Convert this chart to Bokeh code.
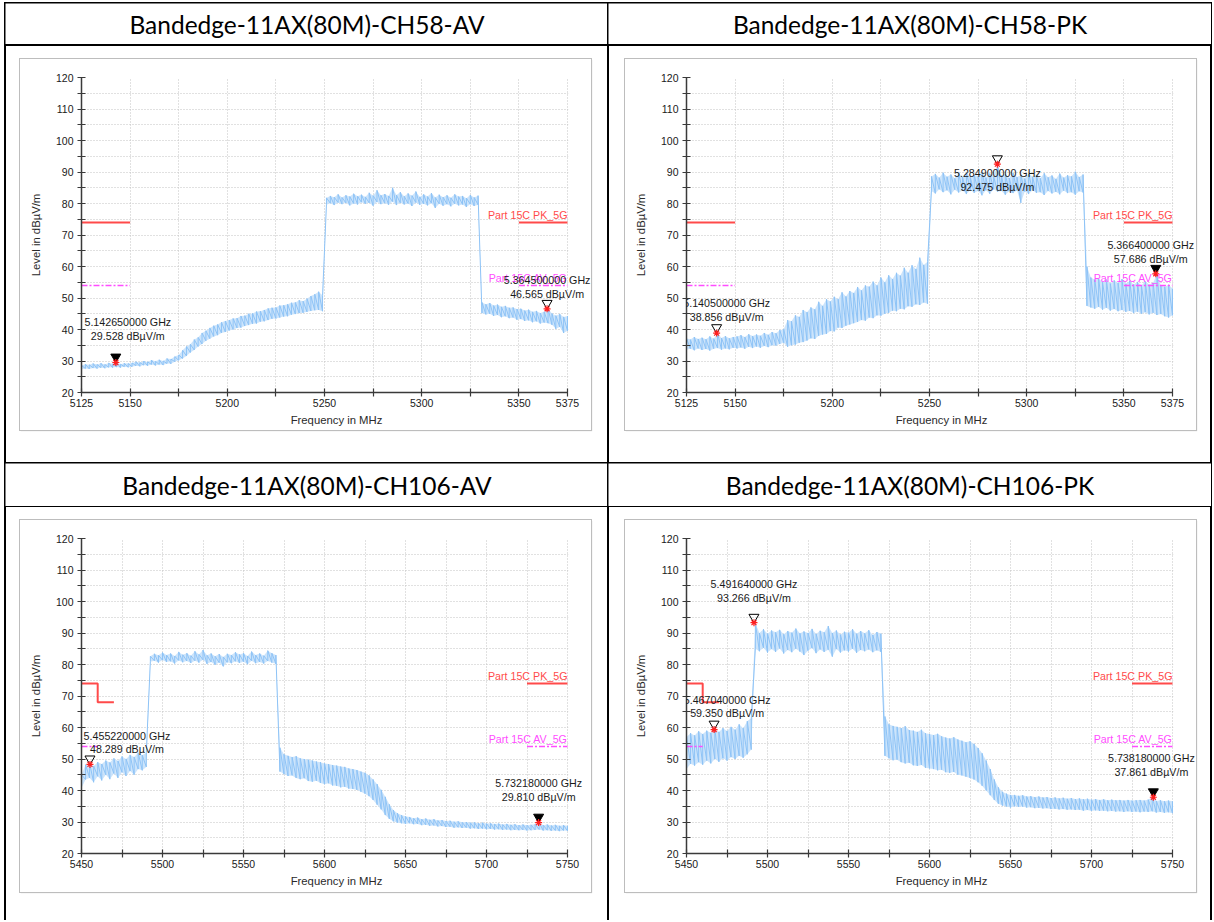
from bokeh.plotting import figure
from bokeh.layouts import column, row
from bokeh.models import Spacer, FixedTicker, Range1d, Label, BoxAnnotation
from bokeh.embed import file_html
from bokeh.resources import INLINE
from bokeh.core.properties import value

# ---------------------------------------------------------------- data
TITLES = ["Bandedge-11AX(80M)-CH58-AV", "Bandedge-11AX(80M)-CH58-PK",
          "Bandedge-11AX(80M)-CH106-AV", "Bandedge-11AX(80M)-CH106-PK"]

CH58_RANGE = (5125, 5375)
CH58_STEP = 2.0          # MHz per trace bin
CH106_RANGE = (5450, 5750)
CH106_STEP = 2.5
Y_RANGE = (20, 120)

CH58_X_MAJOR = [5125, 5150, 5200, 5250, 5300, 5350, 5375]
CH58_X_MINOR = [5175, 5225, 5275, 5325]
CH106_X_MAJOR = [5450, 5500, 5550, 5600, 5650, 5700, 5750]
CH106_X_MINOR = [5475, 5525, 5575, 5625, 5675, 5725]
Y_MAJOR = [20, 30, 40, 50, 60, 70, 80, 90, 100, 110, 120]
Y_MINOR = [25, 35, 45, 55, 65, 75, 85, 95, 105, 115]

# trace: per-bin max / min level (dBuV/m)
CH58_AV_HIGH = [
    28.6, 29.0, 28.8, 29.2, 28.9, 29.3, 28.9, 29.4, 29.1, 29.6, 29.0, 29.3, 29.2,
    29.4, 29.8, 29.5, 30.0, 29.7, 30.3, 29.9, 30.4, 30.0, 30.8, 30.6, 31.4, 31.9,
    33.4, 34.6, 35.3, 36.8, 37.5, 38.9, 39.6, 40.5, 41.2, 41.6,
    42.3, 42.7, 43.0, 43.5, 43.6, 44.3, 44.4, 45.0, 45.1, 45.7,
    45.8, 46.2, 46.7, 46.9, 47.0, 47.6, 47.7, 48.0, 48.5, 48.6,
    49.3, 49.0, 49.8, 50.6, 51.2, 52.0, 50.8,
    81.8, 82.4, 82.0, 82.9, 81.9, 82.6, 82.2, 83.1, 82.3, 82.8,
    82.1, 83.4, 82.5, 84.2, 82.6, 83.0, 82.4, 85.0, 82.7, 83.6,
    82.3, 83.2, 82.5, 83.8, 82.1, 82.9, 82.2, 83.3, 81.9, 82.8,
    82.0, 82.6, 81.8, 82.9, 82.2, 82.4, 81.7, 82.7, 81.9, 82.5,
    48.6, 48.0, 48.4, 47.6, 47.9, 47.2, 47.5, 46.9, 47.0, 46.5,
    46.6, 46.0, 46.3, 45.6, 45.9, 45.2, 45.6, 46.6, 45.1, 44.4, 44.9, 44.0, 44.3,
]
CH58_AV_LOW = [
    27.4, 27.6, 27.5, 27.8, 27.6, 27.9, 27.7, 28.0, 27.9, 28.1, 27.9, 28.2, 28.0,
    28.2, 28.5, 28.3, 28.7, 28.5, 28.9, 28.6, 28.9, 28.7, 29.2, 29.1, 29.8, 30.2,
    30.8, 31.6, 32.7, 33.5, 34.6, 35.4, 36.4, 37.1, 37.8, 38.2,
    38.9, 39.2, 39.7, 40.0, 40.5, 40.6, 41.1, 41.4, 41.8, 41.9,
    42.5, 42.6, 43.0, 43.4, 43.5, 43.8, 44.1, 44.2, 44.7, 44.9,
    45.2, 45.3, 45.6, 45.9, 46.1, 46.2, 45.8,
    79.6, 80.1, 79.5, 80.3, 79.8, 80.2, 79.4, 80.0, 79.7, 80.4,
    79.9, 80.2, 79.3, 80.5, 79.8, 80.1, 79.6, 80.6, 79.5, 80.2,
    79.7, 80.0, 79.2, 80.3, 79.6, 79.9, 79.4, 80.1, 78.6, 79.9,
    79.3, 79.8, 79.1, 79.9, 79.4, 79.7, 78.9, 79.8, 79.2, 79.6,
    45.2, 44.8, 45.0, 44.3, 44.6, 43.9, 44.2, 43.6, 43.8, 43.1,
    43.3, 42.7, 42.9, 42.3, 42.6, 41.9, 42.2, 42.0, 41.5, 40.2, 40.8, 38.9, 39.6,
]

CH58_PK_HIGH = [
    37.2, 36.8, 37.6, 37.0, 37.4, 36.9, 37.8, 37.1, 38.8, 37.3, 37.9, 37.2, 37.6,
    37.8, 38.2, 37.6, 38.5, 37.9, 38.4, 38.0, 38.9, 38.3, 39.2, 38.8, 39.8, 40.1,
    43.0, 42.6, 44.5, 44.0, 46.2, 45.5, 47.0, 46.4, 48.8, 47.5,
    49.6, 48.9, 50.4, 49.6, 51.8, 50.5, 52.2, 51.6, 53.5, 52.4,
    54.0, 53.6, 55.2, 54.0, 56.5, 55.0, 57.2, 56.0, 58.0, 57.1,
    59.6, 58.0, 60.4, 59.2, 62.8, 60.5, 61.5,
    88.6, 89.4, 88.2, 89.8, 88.5, 89.2, 88.0, 89.6, 88.4, 89.9,
    88.3, 89.1, 88.7, 90.0, 88.2, 89.5, 88.6, 92.4, 88.9, 89.3,
    88.1, 89.7, 88.4, 89.0, 87.9, 89.4, 88.5, 89.1, 88.0, 89.6,
    88.3, 88.9, 87.8, 89.5, 88.2, 89.0, 88.6, 90.1, 88.4, 89.2,
    60.0, 56.5, 55.8, 56.2, 55.0, 55.9, 54.6, 55.6, 54.8, 56.0,
    54.5, 55.4, 54.3, 55.1, 54.0, 55.3, 54.2, 54.8, 57.6, 54.0, 53.6, 54.2, 53.0,
]
CH58_PK_LOW = [
    33.6, 33.9, 33.4, 34.0, 33.5, 33.8, 33.3, 33.9, 34.1, 33.6, 34.0, 33.7, 34.2,
    34.0, 34.3, 33.9, 34.5, 34.1, 34.6, 34.2, 34.8, 34.4, 35.0, 34.9, 35.4, 35.8,
    34.5, 35.0, 35.2, 35.8, 36.0, 36.5, 37.2, 37.0, 38.0, 38.4,
    38.6, 39.5, 39.4, 40.6, 40.5, 41.2, 41.6, 42.0, 42.4, 43.0,
    42.8, 43.8, 43.6, 44.5, 44.4, 45.0, 45.3, 46.0, 45.8, 46.6,
    46.4, 47.4, 47.2, 48.0, 47.8, 48.6, 48.2,
    84.0, 83.2, 84.5, 83.6, 84.2, 82.9, 84.4, 83.5, 84.1, 83.0,
    84.3, 83.4, 84.0, 82.6, 84.2, 83.1, 84.5, 83.7, 84.0, 82.8,
    83.9, 83.3, 84.1, 80.2, 83.8, 83.0, 84.2, 83.4, 83.6, 82.7,
    84.0, 83.2, 83.7, 82.9, 84.1, 83.3, 83.6, 82.8, 83.9, 83.5,
    47.5, 47.0, 46.6, 47.2, 46.3, 46.9, 46.0, 46.5, 45.8, 46.2,
    45.6, 45.9, 45.2, 45.7, 45.0, 45.5, 44.8, 45.3, 44.6, 44.9, 44.2, 43.8, 44.5,
]

CH106_AV_HIGH = [
    45.0, 48.2, 48.6, 47.8, 49.0, 48.4, 49.5, 48.9, 50.2, 49.4, 50.8, 50.0, 51.3, 50.6, 52.0, 51.2,
    52.0,
    82.6, 83.4, 82.9, 83.8, 83.0, 83.5, 82.7, 84.0, 83.1, 83.6,
    82.8, 84.2, 83.2, 84.6, 82.9, 83.5, 82.6, 83.3, 82.4, 83.4,
    83.0, 83.9, 83.2, 83.6, 82.7, 84.1, 83.0, 83.5, 82.8, 84.4, 83.6,
    83.0,
    53.6, 51.5, 51.0, 50.6, 50.9, 50.2, 50.0, 49.8, 49.5, 49.2,
    49.0, 48.6, 48.4, 48.1, 47.9, 47.6, 47.5, 47.0, 46.8, 46.5,
    46.0, 45.6, 44.8, 43.5, 42.0, 40.2, 38.0, 35.6, 33.8, 32.8, 32.2, 31.8,
    31.6, 31.2, 31.4, 30.9, 31.1, 30.7, 30.9, 30.5, 30.6, 30.3,
    30.4, 30.1, 30.2, 29.9, 30.0, 29.8, 29.9, 29.6, 29.8, 29.5,
    29.6, 29.4, 29.5, 29.2, 29.4, 29.1, 29.3, 29.0, 29.2, 29.0,
    29.1, 29.3, 29.8, 29.0, 29.2, 28.9, 29.1, 28.8, 29.0, 28.8,
]
CH106_AV_LOW = [
    40.8, 43.5, 44.0, 42.6, 44.5, 43.2, 45.0, 43.6, 45.4, 44.0, 45.8, 44.6, 46.2, 45.0, 46.8, 46.4,
    47.5,
    80.9, 81.2, 80.6, 81.4, 80.8, 81.0, 80.3, 81.3, 80.7, 81.1,
    80.5, 81.2, 80.6, 81.5, 80.2, 80.8, 79.9, 80.6, 79.4, 80.7,
    80.4, 81.0, 80.5, 80.9, 80.1, 81.2, 80.4, 80.8, 80.3, 81.1, 80.6,
    80.2,
    46.0, 45.2, 44.6, 44.8, 44.0, 43.6, 43.9, 43.0, 42.8, 43.1,
    42.4, 42.0, 42.3, 41.6, 41.5, 41.0, 41.2, 40.6, 40.5, 40.2,
    39.6, 39.0, 38.2, 37.0, 35.5, 34.0, 32.2, 31.0, 30.2, 29.8, 29.6, 29.4,
    29.6, 29.3, 29.4, 29.0, 29.1, 28.8, 28.9, 28.6, 28.7, 28.4,
    28.5, 28.2, 28.3, 28.1, 28.2, 27.9, 28.0, 27.8, 27.9, 27.7,
    27.8, 27.6, 27.7, 27.5, 27.6, 27.4, 27.5, 27.4, 27.5, 27.3,
    27.4, 27.5, 27.6, 27.3, 27.4, 27.2, 27.3, 27.1, 27.3, 27.2,
]

CH106_PK_HIGH = [
    57.0, 58.2, 57.5, 58.8, 57.9, 59.0, 58.3, 59.5, 58.6, 59.8, 58.9, 60.2, 59.3, 61.0, 59.8, 62.0,
    63.0,
    93.2, 90.0, 91.2, 89.8, 90.8, 90.2, 91.0, 89.6, 90.6, 90.1,
    91.4, 89.9, 90.5, 90.0, 91.3, 89.7, 90.7, 90.2, 92.2, 90.0,
    90.8, 89.5, 90.4, 90.1, 91.2, 89.8, 90.6, 89.9, 90.9, 89.4, 90.3,
    89.8,
    63.5, 61.0, 60.5, 60.2, 59.8, 60.4, 59.2, 59.0, 58.6, 59.3,
    58.2, 57.9, 57.6, 58.0, 57.2, 56.8, 56.5, 56.9, 56.2, 55.8,
    55.3, 55.6, 54.8, 53.5, 51.8, 49.5, 46.8, 43.5, 41.0, 39.6, 39.0, 38.6,
    38.6, 38.3, 38.5, 38.1, 38.2, 37.9, 38.1, 37.8, 37.9, 37.6,
    37.8, 37.5, 37.7, 37.4, 37.6, 37.3, 37.5, 37.2, 37.4, 37.1,
    37.3, 37.0, 37.2, 36.9, 37.1, 36.9, 37.0, 36.8, 37.0, 36.8,
    36.9, 37.0, 36.8, 37.1, 37.9, 36.7, 36.9, 36.6, 36.8, 36.6,
]
CH106_PK_LOW = [
    46.8, 48.5, 47.9, 49.0, 48.2, 49.5, 48.6, 50.0, 49.1, 50.2, 49.5, 50.6, 50.0, 51.0, 50.4, 51.5,
    53.0,
    85.0, 84.2, 85.3, 83.8, 84.9, 84.0, 85.1, 83.5, 84.6, 83.9,
    85.0, 84.1, 83.0, 84.4, 85.2, 83.6, 84.8, 84.0, 84.7, 82.5,
    84.9, 83.8, 84.5, 84.1, 85.0, 83.7, 84.6, 84.2, 84.8, 83.9, 84.5,
    84.0,
    51.0, 50.2, 49.6, 49.8, 49.0, 48.6, 48.8, 48.0, 47.8, 48.1,
    47.2, 47.0, 46.8, 46.4, 46.6, 45.8, 45.6, 45.9, 45.0, 44.8,
    44.4, 44.0, 43.5, 42.6, 41.5, 40.0, 38.5, 37.0, 35.8, 35.2, 34.9, 34.6,
    35.0, 34.8, 34.9, 34.6, 34.7, 34.4, 34.5, 34.3, 34.4, 34.1,
    34.2, 34.0, 34.1, 33.9, 34.0, 33.8, 33.9, 33.6, 33.8, 33.5,
    33.7, 33.5, 33.6, 33.4, 33.5, 33.3, 33.4, 33.2, 33.4, 33.2,
    33.3, 33.1, 33.3, 33.2, 33.4, 33.0, 33.2, 32.9, 33.1, 32.8,
]

# markers (frequency MHz, level dBuV/m, filled?)
MK_CH58_AV_FREQ = [5142.65, 5364.5]
MK_CH58_AV_LEVEL = [29.528, 46.565]
MK_CH58_AV_FILLED = [True, False]
MK_CH58_PK_FREQ = [5140.5, 5284.9, 5366.4]
MK_CH58_PK_LEVEL = [38.856, 92.475, 57.686]
MK_CH58_PK_FILLED = [False, False, True]
MK_CH106_AV_FREQ = [5455.22, 5732.18]
MK_CH106_AV_LEVEL = [48.289, 29.810]
MK_CH106_AV_FILLED = [False, True]
MK_CH106_PK_FREQ = [5491.64, 5467.04, 5738.18]
MK_CH106_PK_LEVEL = [93.266, 59.350, 37.861]
MK_CH106_PK_FILLED = [False, False, True]

# limit lines
PK_LIMIT_NAME = "Part 15C PK_5G"
AV_LIMIT_NAME = "Part 15C AV_5G"
PK_LIMIT = 74
AV_LIMIT = 54
CH58_PK_SEGMENTS = [([5125, 5150], [74, 74]), ([5350, 5375], [74, 74])]
CH58_AV_SEGMENTS = [([5125, 5150], [54, 54]), ([5350, 5375], [54, 54])]
CH106_PK_SEGMENTS = [([5450, 5460, 5460, 5470], [74, 74, 68, 68]), ([5725, 5750], [74, 74])]
CH106_AV_SEGMENTS = [([5450, 5460], [54, 54]), ([5725, 5750], [54, 54])]

# marker label placement in pixels: (shift right, line-1 lift, line-2 lift)
LBL_CH58_AV = [(12, 40, 26), (0, 29, 15)]
LBL_CH58_PK = [(10, 30, 16), (0, -9, -23), (-5, 29, 15)]
LBL_CH106_AV = [(37, 28, 15), (0, 40, 26)]
LBL_CH106_PK = [(0, 39, 25), (13, 30, 17), (-2, 39, 25)]

# ---------------------------------------------------------------- style
FONT = "Liberation Sans"
TRACE_COLOR = "#8ec3f6"
BAND_COLOR = "#c6e1fb"
PK_COLOR = "#ff4a4a"
AV_COLOR = "#ff4dff"
GRID_COLOR = "#c2c2c2"
TRI_DY = 1.75      # dB lift so that the triangle tip sits on the point
PLOT_W = 486       # px of the drawn frequency span
SPARE_RIGHT = 24   # px right of the span, room for marker texts


def make_chart(xr, step, high, low, xmaj, xmin, mk_f, mk_l, mk_fill, lbl,
               pk_segs, av_segs, h):
    span = xr[1] - xr[0]
    x_end = xr[1] + span * SPARE_RIGHT / PLOT_W
    p = figure(width=571, height=h,
               x_range=Range1d(xr[0], x_end), y_range=Range1d(*Y_RANGE),
               min_border_left=61, min_border_right=0,
               min_border_top=18, min_border_bottom=h - 18 - 315,
               toolbar_location=None, output_backend="svg",
               background_fill_color="white", border_fill_color="white",
               outline_line_color=None,
               styles={"outline": "1px solid #bdbdbd",
                       "box-shadow": "1px 1px 1px #cfcfcf"})
    p.xaxis.ticker = FixedTicker(ticks=xmaj, minor_ticks=xmin)
    p.yaxis.ticker = FixedTicker(ticks=Y_MAJOR, minor_ticks=Y_MINOR)
    p.xaxis.bounds = xr
    for ax in (p.xaxis[0], p.yaxis[0]):
        ax.axis_line_color = "#3a3a3a"
        ax.axis_line_width = 1.5
        ax.major_tick_line_color = "#3a3a3a"
        ax.minor_tick_line_color = "#3a3a3a"
        ax.major_tick_line_width = 1.2
        ax.minor_tick_line_width = 1.2
        ax.major_tick_in = 4
        ax.major_tick_out = 4
        ax.minor_tick_in = 4
        ax.minor_tick_out = 4
        ax.major_label_text_font = FONT
        ax.major_label_text_font_size = "10.5px"
        ax.major_label_text_color = "#1a1a1a"
        ax.axis_label_text_font = FONT
        ax.axis_label_text_font_size = "11.3px"
        ax.axis_label_text_font_style = "normal"
        ax.axis_label_text_color = "#2a2a2a"
    p.xaxis.axis_label = "Frequency in MHz"
    p.yaxis.axis_label = "Level in dB\u00b5V/m"
    p.xaxis.major_label_standoff = 2
    p.xaxis.axis_label_standoff = 4
    p.yaxis.major_label_standoff = 4
    p.yaxis.axis_label_standoff = 11
    for g in (p.xgrid[0], p.ygrid[0]):
        g.grid_line_color = GRID_COLOR
        g.grid_line_dash = "1 2"
        g.grid_line_width = 1
        g.minor_grid_line_color = GRID_COLOR
        g.minor_grid_line_dash = "1 2"
        g.minor_grid_line_width = 1
    # blank the spare strip right of the span (grid must stop at the last tick)
    p.add_layout(BoxAnnotation(left=xr[1] + span * 0.8 / PLOT_W,
                               fill_color="white", fill_alpha=1.0,
                               line_color=None, level="glyph"))

    # trace: light band between bin min and max, then one stroke per bin
    freqs = [xr[0] + step * i for i in range(len(high))]
    p.varea(x=freqs, y1=low, y2=high, fill_color=BAND_COLOR, fill_alpha=0.9)
    xs, ys = [], []
    for f, hi, lo in zip(freqs, high, low):
        xs += [f, f]
        ys += [lo, hi]
    p.line(xs, ys, line_color=TRACE_COLOR, line_width=1)

    # limit lines
    for sx, sy in pk_segs:
        p.line(sx, sy, line_color=PK_COLOR, line_width=2)
    for sx, sy in av_segs:
        p.line(sx, sy, line_color=AV_COLOR, line_width=1.5, line_dash="6 2 2 2")
    for name, lim, col in ((PK_LIMIT_NAME, PK_LIMIT, PK_COLOR),
                           (AV_LIMIT_NAME, AV_LIMIT, AV_COLOR)):
        p.add_layout(Label(x=xr[1], y=lim, text=name, text_color=col,
                           text_align="right", text_baseline="bottom",
                           y_offset=1, text_font=FONT, text_font_size="10.7px"))

    # markers
    for f, l, filled, (dx, d1, d2) in zip(mk_f, mk_l, mk_fill, lbl):
        p.scatter([f], [l + TRI_DY], marker="inverted_triangle", size=10,
                  line_color="black", line_width=1,
                  fill_color="black" if filled else None)
        p.scatter([f], [l], marker="asterisk", size=7, line_color="#ff2020",
                  line_width=1.2)
        p.add_layout(Label(x=f, y=l, text="%.9f GHz" % (f / 1000.0),
                           text_align="center", text_baseline="middle",
                           x_offset=dx, y_offset=d1, text_font=FONT,
                           text_font_size="10.7px", text_color="#1a1a1a"))
        p.add_layout(Label(x=f, y=l, text="%.3f dB\u00b5V/m" % l,
                           text_align="center", text_baseline="middle",
                           x_offset=dx, y_offset=d2, text_font=FONT,
                           text_font_size="10.7px", text_color="#1a1a1a"))
    return p


CELL_LINE = {"outline": "2px solid #000000", "outline-offset": "-1px"}
SIDE_LINES = {"box-shadow": "inset 1px 0 0 #000000, inset -1px 0 0 #000000, "
                            "-1px 0 0 0 #000000, 1px 0 0 0 #000000"}


def title_cell(text, w, h):
    p = figure(width=w, height=h, x_range=Range1d(0, 1), y_range=Range1d(0, 1),
               x_axis_location=None, y_axis_location=None,
               min_border=0, toolbar_location=None, output_backend="svg",
               outline_line_color=None, background_fill_color="white",
               border_fill_color="white", styles=CELL_LINE)
    p.grid.visible = False
    p.text(x=[0.5], y=[0.5], text=[text], text_align="center",
           text_baseline="middle", text_font=value("Lato"),
           text_font_size="24.5px", text_color="#000000")
    return p


def chart_cell(fig, w, h, left, top, css):
    right = w - left - fig.width
    bottom = h - top - fig.height
    return column(Spacer(width=w, height=top),
                  row(Spacer(width=left, height=fig.height), fig,
                      Spacer(width=right, height=fig.height)),
                  Spacer(width=w, height=bottom),
                  styles=css)


W = 603

c1 = make_chart(CH58_RANGE, CH58_STEP, CH58_AV_HIGH, CH58_AV_LOW, CH58_X_MAJOR, CH58_X_MINOR,
                MK_CH58_AV_FREQ, MK_CH58_AV_LEVEL, MK_CH58_AV_FILLED, LBL_CH58_AV,
                CH58_PK_SEGMENTS, CH58_AV_SEGMENTS, 371)
c2 = make_chart(CH58_RANGE, CH58_STEP, CH58_PK_HIGH, CH58_PK_LOW, CH58_X_MAJOR, CH58_X_MINOR,
                MK_CH58_PK_FREQ, MK_CH58_PK_LEVEL, MK_CH58_PK_FILLED, LBL_CH58_PK,
                CH58_PK_SEGMENTS, CH58_AV_SEGMENTS, 371)
c3 = make_chart(CH106_RANGE, CH106_STEP, CH106_AV_HIGH, CH106_AV_LOW, CH106_X_MAJOR, CH106_X_MINOR,
                MK_CH106_AV_FREQ, MK_CH106_AV_LEVEL, MK_CH106_AV_FILLED, LBL_CH106_AV,
                CH106_PK_SEGMENTS, CH106_AV_SEGMENTS, 372)
c4 = make_chart(CH106_RANGE, CH106_STEP, CH106_PK_HIGH, CH106_PK_LOW, CH106_X_MAJOR, CH106_X_MINOR,
                MK_CH106_PK_FREQ, MK_CH106_PK_LEVEL, MK_CH106_PK_FILLED, LBL_CH106_PK,
                CH106_PK_SEGMENTS, CH106_AV_SEGMENTS, 372)

table = column(
    row(title_cell(TITLES[0], W, 42), title_cell(TITLES[1], W, 42)),
    row(chart_cell(c1, W, 418, 15, 14, CELL_LINE),
        chart_cell(c2, W, 418, 17, 14, CELL_LINE)),
    row(title_cell(TITLES[2], W, 43), title_cell(TITLES[3], W, 43)),
    row(chart_cell(c3, W, 414, 15, 14, SIDE_LINES),
        chart_cell(c4, W, 414, 17, 14, SIDE_LINES)),
)

layout = column(Spacer(width=1211, height=3),
                row(Spacer(width=5, height=920), table))

open("out.html", "w").write(file_html(layout, INLINE))
